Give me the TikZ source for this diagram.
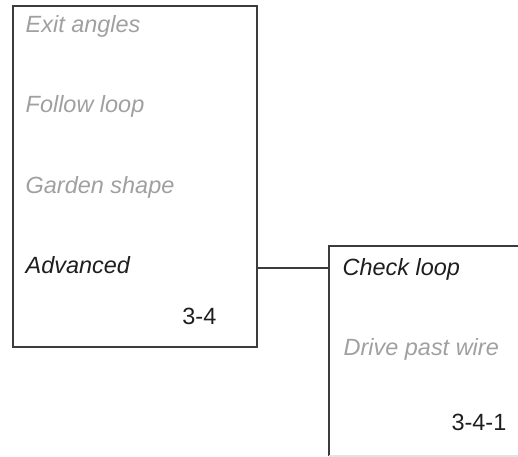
\documentclass[tikz,border=0pt]{standalone}
\usepackage{fontspec}
\setmainfont{Liberation Sans}
\usetikzlibrary{positioning}
\definecolor{frame}{HTML}{3C3C3C}
\definecolor{dimtext}{HTML}{A0A0A0}
\definecolor{livetext}{HTML}{1E1E1E}
\definecolor{faint}{HTML}{E2E2E2}

\begin{document}
\begin{tikzpicture}[
    x=0.75pt, y=-0.75pt,
    line width=1pt,
    menubox/.style={draw=frame, line width=1pt, inner sep=0pt,
                    minimum width=183pt, minimum height=255.75pt},
    item/.style={anchor=base west, inner sep=0pt, text=dimtext,
                 font=\fontsize{17.6}{20}\selectfont\itshape},
    liveitem/.style={item, text=livetext},
    pageno/.style={anchor=base east, inner sep=0pt, text=livetext,
                   font=\fontsize{17.6}{20}\selectfont},
    link/.style={draw=frame, line width=1pt},
  ]
  \useasboundingbox (0,0) rectangle (518,457);

  % Parent menu.
  \node[menubox] (main) at (135,176.5) {};
  \node[item]     (exit)   at (25,32)  {Exit angles};
  \node[item]     (follow) at (25,112) {Follow loop};
  \node[item]     (garden) at (25,193) {Garden shape};
  \node[liveitem] (adv)    at (25,273) {Advanced};
  \node[pageno]   (mainno) at (217,324) {3-4};

  % Sub menu, cut off at the page edges.
  \coordinate (sub) at (329,246);
  \draw[link] (518,246) -- (sub) -- (sub |- 0,456);
  \draw[faint, line width=0.8pt] (sub |- 0,456) -- (518,456);
  \node[liveitem] (check) at (342,275) {Check loop};
  \node[item]     (drive) at (343,355) {Drive past wire};
  \node[pageno]   (subno) at (507,430) {3-4-1};

  % Link from the active item to its sub menu.
  \coordinate (join) at (0,268);
  \draw[link] (main.east |- join) -- (sub |- join);
\end{tikzpicture}
\end{document}
